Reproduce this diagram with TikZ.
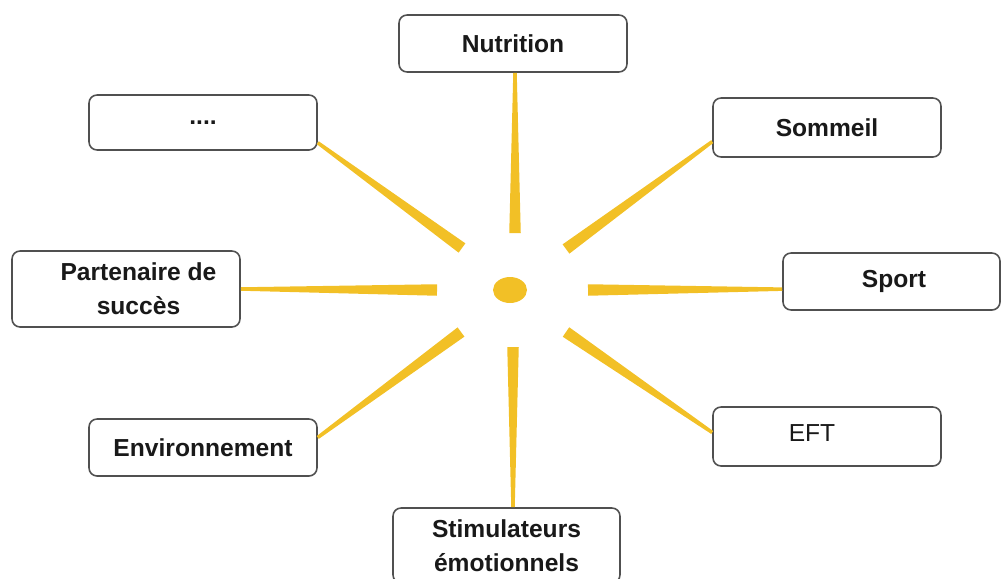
\documentclass[tikz,border=0pt]{standalone}
\usepackage{fontspec}
\setmainfont{Liberation Sans}
\usetikzlibrary{calc}
\definecolor{raygold}{RGB}{242,192,38}
\definecolor{boxline}{RGB}{80,80,80}
% tapered ray: wide end at #1, thin end at #2
\newcommand{\sunbeam}[2]{%
	\fill[raygold] ($(#1)!0.115cm!90:(#2)$) -- ($(#2)!0.035cm!-90:(#1)$)
		-- ($(#2)!0.035cm!90:(#1)$) -- ($(#1)!0.115cm!-90:(#2)$) -- cycle;}
\begin{document}
\begin{tikzpicture}[x=0.02cm,y=-0.02cm,
		theme/.style={draw=boxline,line width=0.9pt,rounded corners=0.16cm,fill=white,
			minimum width=4.56cm,minimum height=1.14cm,align=center,text=black!90,
			font=\bfseries\fontsize{14}{19.5}\selectfont}]
	\useasboundingbox (0,0) rectangle (1003,578);
	\coordinate (C) at (510,290);
	\node[theme] (nut) at (513,43.5) {Nutrition};
	\node[theme,minimum height=1.1cm] (dots) at (203,122.5) {....};
	\node[theme,minimum height=1.18cm] (som) at (827,127.5) {Sommeil};
	\node[theme,minimum height=1.52cm] (part) at (126,289) {\hspace*{0.5cm}Partenaire de\\\hspace*{0.5cm}succès};
	\node[theme,minimum width=4.34cm] (sport) at (891.5,281.5) {\hspace*{0.1cm}Sport};
	\node[theme] (env) at (203,447.5) {Environnement};
	\node[theme,minimum height=1.18cm,font=\fontsize{14}{17}\selectfont] (eft) at (827,436.5) {\raisebox{0.15cm}{EFT}\hspace*{0.6cm}};
	\node[theme,minimum width=4.54cm,minimum height=1.5cm] (stim) at (506.5,545.5) {Stimulateurs\\émotionnels};
	% inner ends of the rays
	\coordinate (n-in) at (515,233);
	\coordinate (ne-in) at (566,249);
	\coordinate (e-in) at (588,290);
	\coordinate (se-in) at (566,332);
	\coordinate (s-in) at (513,347);
	\coordinate (sw-in) at (461,332);
	\coordinate (w-in) at (437,290);
	\coordinate (nw-in) at (462,248);
	\coordinate (n-out) at (n-in |- nut.south);
	\coordinate (s-out) at (s-in |- stim.north);
	\sunbeam{n-in}{n-out}
	\sunbeam{ne-in}{som.187}
	\sunbeam{e-in}{sport.184}
	\sunbeam{se-in}{eft.178}
	\sunbeam{s-in}{s-out}
	\sunbeam{sw-in}{env.5}
	\sunbeam{w-in}{part.west -| part.east}
	\sunbeam{nw-in}{dots.350}
	\fill[raygold] (C) ellipse (0.34cm and 0.26cm);
\end{tikzpicture}
\end{document}
